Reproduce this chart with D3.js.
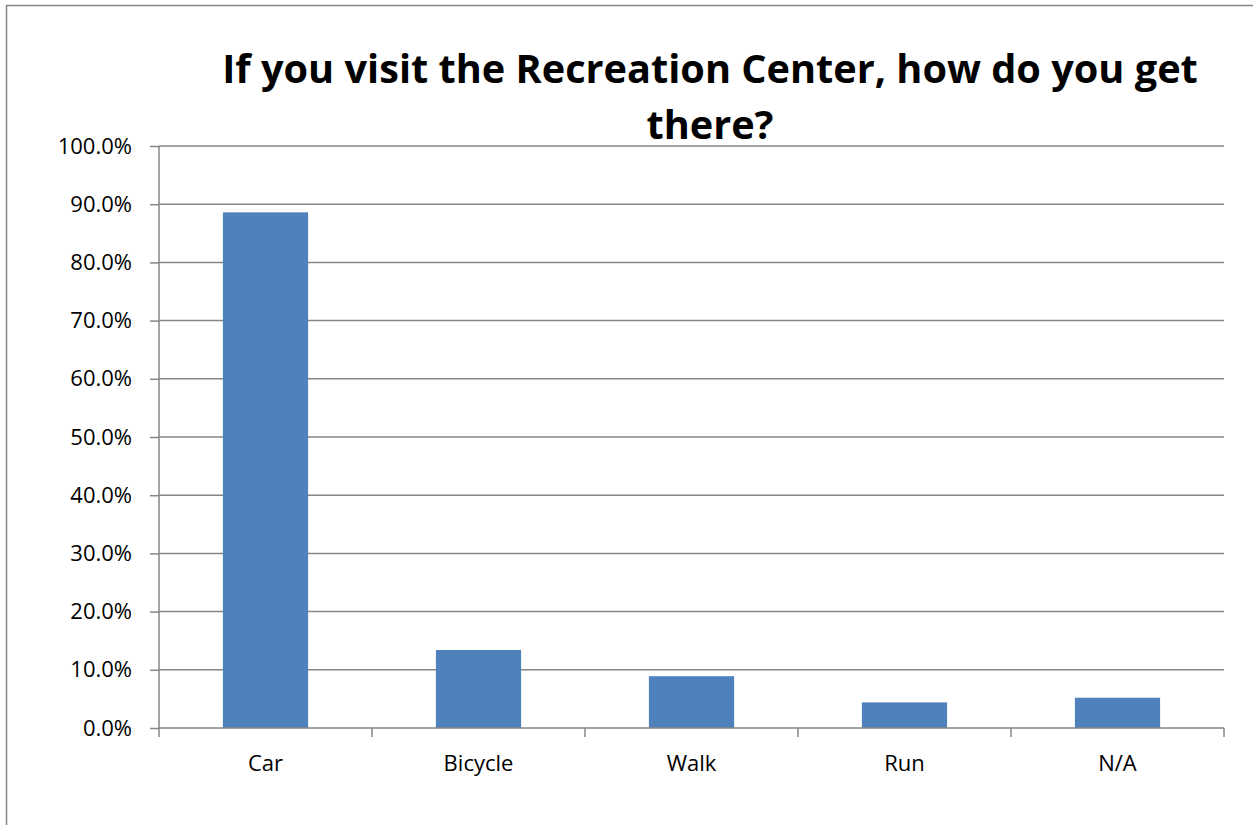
<!DOCTYPE html>
<html><head><meta charset="utf-8">
<script src="https://cdn.jsdelivr.net/npm/d3@7"></script>
<style>html,body{margin:0;padding:0;background:#fff;overflow:hidden}</style>
</head><body>
<script>
const categories = ["Car", "Bicycle", "Walk", "Run", "N/A"];
const values = [0.886, 0.134, 0.089, 0.044, 0.052];
const yTicks = [0, 0.1, 0.2, 0.3, 0.4, 0.5, 0.6, 0.7, 0.8, 0.9, 1.0];
const titleLines = ["If you visit the Recreation Center, how do you get", "there?"];

const W = 1253, H = 825;
const svg = d3.select("body").append("svg").attr("width", W).attr("height", H);
const font = "'Open Sans', 'Noto Sans', sans-serif";

svg.append("rect").attr("x", 6.5).attr("y", 5.5).attr("width", 1400).attr("height", 1000)
  .attr("fill", "none").attr("stroke", "#868686").attr("stroke-width", 1.5);

const pL = 159, pR = 1224, pT = 146, pB = 728;
const x = d3.scaleBand().domain(categories).range([pL, pR]).paddingInner(0.6).paddingOuter(0.3);
const xb = d3.scaleBand().domain(categories).range([pL, pR]);
const y = d3.scaleLinear().domain([0, 1]).range([pB, pT]);

// gridlines
svg.append("g").selectAll("line").data(yTicks.filter(d => d > 0)).join("line")
  .attr("x1", pL).attr("x2", pR).attr("y1", d => y(d)).attr("y2", d => y(d))
  .attr("stroke", "#868686").attr("stroke-width", 1.5);

// y axis
const yAxis = svg.append("g").attr("transform", `translate(${pL},0)`)
  .call(d3.axisLeft(y).tickValues(yTicks).tickFormat(d3.format(".1%")).tickSize(9).tickPadding(18));
yAxis.select(".domain").attr("stroke", "#868686").attr("stroke-width", 1.5).attr("d", `M0,${pT}V${pB}`);
yAxis.selectAll(".tick line").attr("stroke", "#868686").attr("stroke-width", 1.5);
yAxis.selectAll("text").attr("font-family", font).attr("font-size", 22).attr("fill", "#000");

// bars
svg.append("g").selectAll("rect").data(categories).join("rect")
  .attr("x", d => x(d)).attr("width", x.bandwidth())
  .attr("y", (d, i) => y(values[i])).attr("height", (d, i) => pB - y(values[i]))
  .attr("fill", "#4F81BD");

// x axis
const xAxis = svg.append("g").attr("transform", `translate(0,${pB})`)
  .call(d3.axisBottom(xb).tickSize(0));
xAxis.select(".domain").attr("stroke", "#868686").attr("stroke-width", 1.5).attr("d", `M${pL},0H${pR}`);
xAxis.selectAll("text").attr("font-family", font).attr("font-size", 22).attr("fill", "#000")
  .attr("dy", null).attr("y", 43);
const bounds = categories.map(c => xb(c)).concat([pR]);
xAxis.append("g").selectAll("line").data(bounds).join("line")
  .attr("x1", d => d).attr("x2", d => d).attr("y1", 0).attr("y2", 9)
  .attr("stroke", "#868686").attr("stroke-width", 1.5);

// title
const t = svg.append("text").attr("font-family", font).attr("font-weight", "bold").attr("font-size", 40)
  .attr("text-anchor", "middle").attr("fill", "#000");
t.append("tspan").attr("x", 710).attr("y", 83).text(titleLines[0]);
t.append("tspan").attr("x", 710).attr("y", 139).text(titleLines[1]);
const tw = t.select("tspan").node().getComputedTextLength();
t.attr("font-size", 40 * 976 / tw);
</script>
</body></html>
